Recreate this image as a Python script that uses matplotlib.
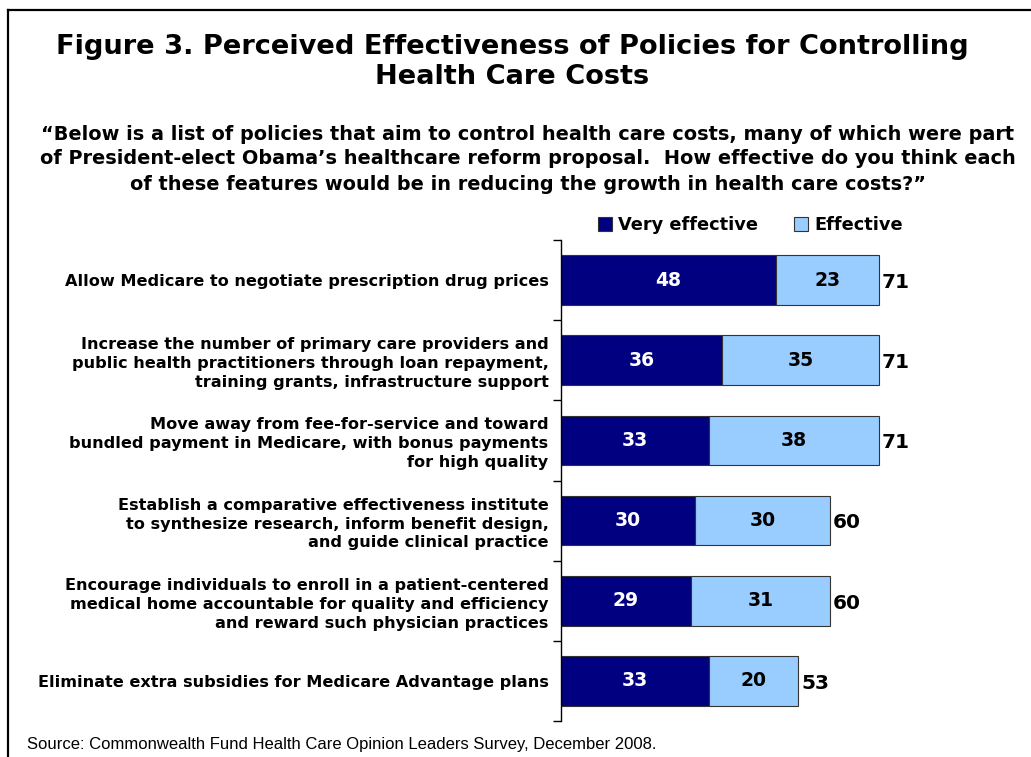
import numpy as np
import matplotlib.pyplot as plt

# survey results, % of opinion leaders
policies = [
    "Allow Medicare to negotiate prescription drug prices",
    "Increase the number of primary care providers and\npublic health practitioners through loan repayment,\ntraining grants, infrastructure support",
    "Move away from fee-for-service and toward\nbundled payment in Medicare, with bonus payments\nfor high quality",
    "Establish a comparative effectiveness institute\nto synthesize research, inform benefit design,\nand guide clinical practice",
    "Encourage individuals to enroll in a patient-centered\nmedical home accountable for quality and efficiency\nand reward such physician practices",
    "Eliminate extra subsidies for Medicare Advantage plans",
]
very_effective = [48, 36, 33, 30, 29, 33]
effective = [23, 35, 38, 30, 31, 20]
totals = [71, 71, 71, 60, 60, 53]

dark = "#000080"
light = "#99CCFF"
heavy = "DejaVu Sans"

fig = plt.figure(figsize=(10.31, 7.57), dpi=100)

# page frame (left and top edges)
fig.add_artist(plt.Line2D([8/1031, 8/1031], [0, 1 - 10/757], color="black", lw=1.6))
fig.add_artist(plt.Line2D([8/1031, 1], [1 - 10/757, 1 - 10/757], color="black", lw=1.6))

fig.text(0.497, 1 - 47/757, "Figure 3. Perceived Effectiveness of Policies for Controlling",
         ha="center", va="center", fontsize=19.6, fontweight="bold", family=heavy)
fig.text(0.497, 1 - 77/757, "Health Care Costs",
         ha="center", va="center", fontsize=19.6, fontweight="bold", family=heavy)

question = ("\u201cBelow is a list of policies that aim to control health care costs, many of which were part\n"
            "of President-elect Obama\u2019s healthcare reform proposal.  How effective do you think each\n"
            "of these features would be in reducing the growth in health care costs?\u201d")
fig.text(0.512, 1 - 159/757, question, ha="center", va="center", fontsize=13.9,
         fontweight="bold", family=heavy, linespacing=1.4)

ax = fig.add_axes([561/1031, 1 - 721/757, 440/1031, 481/757])
y = np.arange(len(policies))
b1 = ax.barh(y, very_effective, height=0.62, color=dark, edgecolor="#333333", lw=0.8,
             label="Very effective")
b2 = ax.barh(y, effective, left=very_effective, height=0.62, color=light,
             edgecolor="#333333", lw=0.8, label="Effective")

for i in range(len(policies)):
    ax.text(very_effective[i] / 2, i, str(very_effective[i]), ha="center", va="center",
            color="white", fontsize=13.5, fontweight="bold", family=heavy)
    ax.text(very_effective[i] + effective[i] / 2, i, str(effective[i]), ha="center",
            va="center", color="black", fontsize=13.5, fontweight="bold", family=heavy)
    ax.text(totals[i] + 0.6, i + 0.03, str(totals[i]), ha="left", va="center", color="black",
            fontsize=14.5, fontweight="bold", family=heavy)

ax.set_xlim(0, 440 / 4.48)
ax.set_ylim(len(policies) - 0.5, -0.5)
ax.set_xticks([])
ax.set_yticks(np.arange(len(policies) + 1) - 0.5)
ax.set_yticklabels([])
ax.set_yticks(y, minor=True)
ax.set_yticklabels(policies, minor=True, fontsize=11.6, fontweight="bold", family=heavy)
ax.tick_params(axis="y", which="major", length=6, width=1, direction="out")
ax.tick_params(axis="y", which="minor", length=0, pad=9)
for lab in ax.get_yticklabels(minor=True):
    lab.set_multialignment("right")
    lab.set_linespacing(1.32)
for s in ["top", "right", "bottom"]:
    ax.spines[s].set_visible(False)
ax.spines["left"].set_linewidth(1)

fig.legend(handles=[b1, b2], loc="center left", bbox_to_anchor=(589/1031, 1 - 225/757),
           ncol=2, frameon=False, handlelength=0.8, handleheight=0.8, handletextpad=0.35,
           columnspacing=2.0, borderpad=0, prop={"family": heavy, "weight": "bold", "size": 12.8})

fig.text(27/1031, 1 - 745/757,
         "Source: Commonwealth Fund Health Care Opinion Leaders Survey, December 2008.",
         ha="left", va="center", fontsize=12, family="Liberation Sans")

fig.savefig("out.png", dpi=100)
